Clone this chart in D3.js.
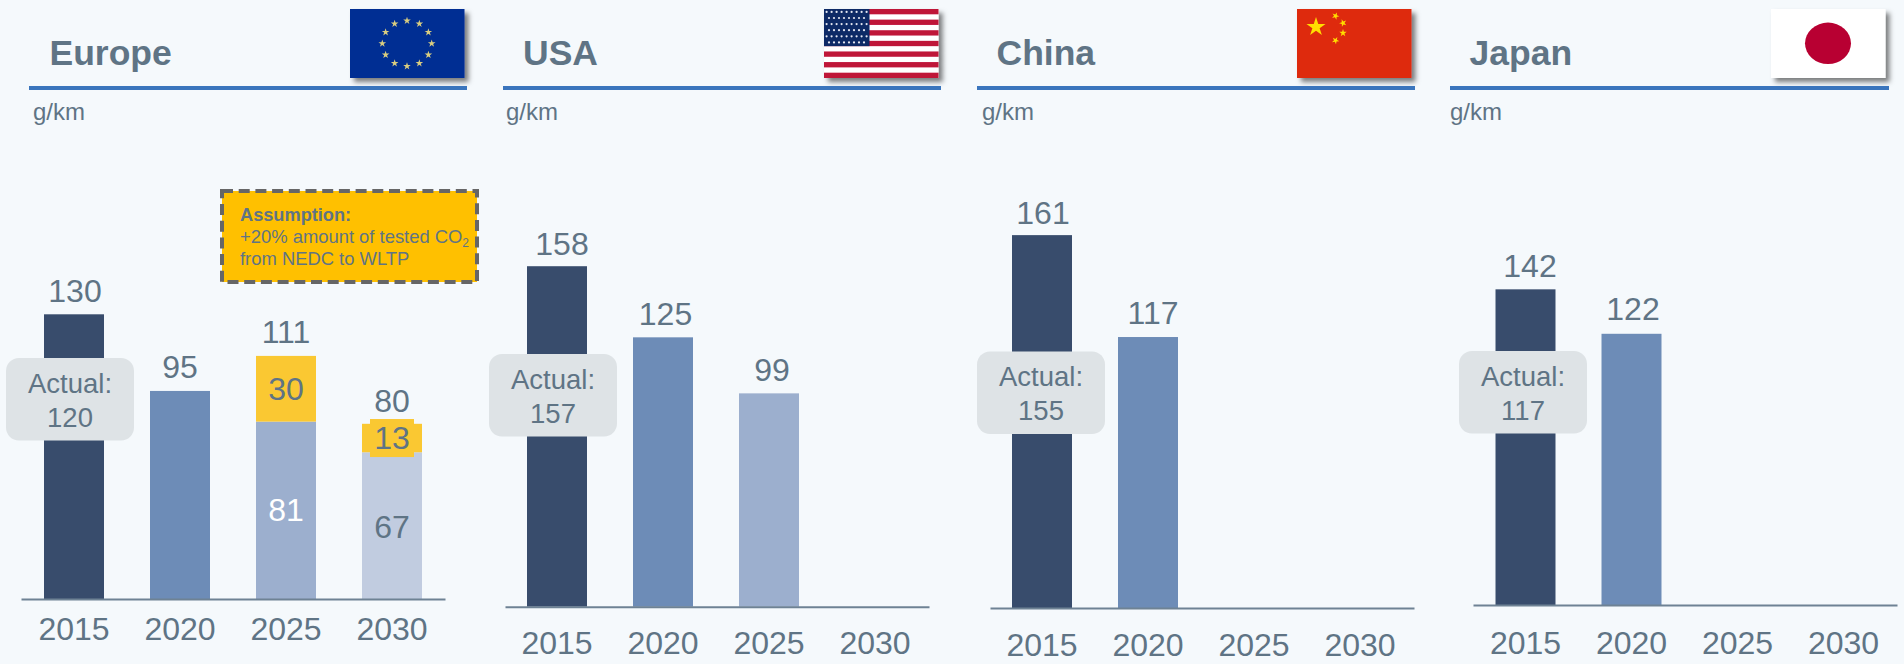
<!DOCTYPE html>
<html>
<head>
<meta charset="utf-8">
<title>CO2 fleet targets by region</title>
<script src="https://cdn.jsdelivr.net/npm/d3@7/dist/d3.min.js"></script>
<style>
  html, body { margin: 0; padding: 0; background: #f5f9fc; overflow: hidden; }
  svg { display: block; }
  text { font-family: "Liberation Sans", Arial, sans-serif; fill: #5f7485; }
</style>
</head>
<body>
<svg id="chart" width="1904" height="664"></svg>
<script>
// Category axis shared by all four regions
const years = ["2015", "2020", "2025", "2030"];
const unitLabel = "g/km";

// Regions and their headline values in g/km (null = no target published)
const regionNames = ["Europe", "USA", "China", "Japan"];
const europeBase = [130, 95, 81, 67];
const europeAdded = [0, 0, 30, 13];
const usaBase = [158, 125, 99, null];
const chinaBase = [161, 117, null, null];
const japanBase = [142, 122, null, null];
const baseSeries = [europeBase, usaBase, chinaBase, japanBase];
const addedSeries = [europeAdded, [0, 0, 0, 0], [0, 0, 0, 0], [0, 0, 0, 0]];

// Measured 2015 fleet value shown in the callout on each first bar
const actual2015 = [120, 157, 155, 117];

// Wording of the note above the Europe panel
const noteTitle = "Assumption:";
const noteLine1 = "+20% amount of tested CO";
const noteSub = "2";
const noteLine2 = "from NEDC to WLTP";

// Layout of each small multiple; every panel has its own vertical scale
const layouts = [
  { ruleX: [29, 467], axisX: [21, 445], barShift: 0, base: 599, perUnit: 2.19, titleX: 49.5, unitX: 33, flagX: 350,
    tickY: 640, callout: [6, 358], nudge: [[1, 0], [0, -1], [0, -1], [0, 0]] },
  { ruleX: [503, 941], axisX: [505, 929], barShift: -1, base: 606.7, perUnit: 2.155, titleX: 523, unitX: 506, flagX: 824,
    tickY: 654, callout: [489, 354], nudge: [[5, 1], [2.5, 0], [3, 0], [0, 0]] },
  { ruleX: [977, 1415], axisX: [990, 1414], barShift: -1, base: 608, perUnit: 2.316, titleX: 996.5, unitX: 982, flagX: 1297,
    tickY: 656, callout: [977, 351.5], nudge: [[1, 1.5], [5, -1], [0, 0], [0, 0]] },
  { ruleX: [1450, 1889], axisX: [1473, 1897], barShift: -0.5, base: 605, perUnit: 2.223, titleX: 1469.5, unitX: 1450, flagX: 1771,
    tickY: 654, callout: [1459, 351], nudge: [[4.5, 0], [1.5, -1], [0, 0], [0, 0]] }
];

const barColors = ["#384c6c", "#6d8cb7", "#9cafce", "#c1cce0"];
const addedColor = "#fac832";
const labelSize = 32;

const svg = d3.select("#chart");

const defs = svg.append("defs");
const shadow = defs.append("filter").attr("id", "flagShadow")
  .attr("x", "-10%").attr("y", "-10%").attr("width", "125%").attr("height", "130%");
shadow.append("feDropShadow").attr("dx", 4).attr("dy", 4).attr("stdDeviation", 2.5)
  .attr("flood-color", "#000").attr("flood-opacity", 0.5);

svg.append("rect").attr("width", 1904).attr("height", 664).attr("fill", "#f5f9fc");

const FLAG_W = 114.5, FLAG_H = 69, FLAG_Y = 9;

// Five-pointed star path centred on the origin
function starPath(r, rotation = 0) {
  const pts = d3.range(10).map(i => {
    const rad = i % 2 ? r * 0.382 : r;
    const a = rotation + i * Math.PI / 5;
    return [rad * Math.sin(a), -rad * Math.cos(a)];
  });
  return d3.line()(pts) + "Z";
}

const flagPainters = {
  Europe(g) {
    g.append("rect").attr("width", FLAG_W).attr("height", FLAG_H).attr("fill", "#012e93");
    d3.range(12).forEach(i => {
      const a = i * Math.PI / 6;
      g.append("path").attr("d", starPath(4))
        .attr("transform", `translate(${57 + 24.7 * Math.sin(a)},${34.5 - 22.7 * Math.cos(a)})`)
        .attr("fill", "#d9cd80");
    });
  },
  USA(g) {
    const stripe = FLAG_H / 13;
    g.append("rect").attr("width", FLAG_W).attr("height", FLAG_H).attr("fill", "#fff");
    d3.range(0, 13, 2).forEach(i => {
      g.append("rect").attr("y", i * stripe).attr("width", FLAG_W).attr("height", stripe).attr("fill", "#bf1238");
    });
    g.append("rect").attr("width", 45.5).attr("height", stripe * 7).attr("fill", "#0e2a66");
    d3.range(6).forEach(row => {
      const count = row % 2 ? 8 : 9;
      d3.range(count).forEach(col => {
        g.append("circle").attr("cx", (row % 2 ? 5 : 2.6) + col * 5)
          .attr("cy", 2.9 + row * 6.1).attr("r", 1.1).attr("fill", "#e4e8f2");
      });
    });
  },
  China(g) {
    g.append("rect").attr("width", FLAG_W).attr("height", FLAG_H).attr("fill", "#de2a10");
    g.append("path").attr("d", starPath(10)).attr("transform", "translate(19,18)").attr("fill", "#ffde00");
    [[38.5, 7, 0.4], [46, 14, 0.9], [46, 24, 0], [38.5, 31.5, 0.5]].forEach(([x, y, rot]) => {
      g.append("path").attr("d", starPath(3.9, rot)).attr("transform", `translate(${x},${y})`).attr("fill", "#ffde00");
    });
  },
  Japan(g) {
    g.append("rect").attr("width", FLAG_W).attr("height", FLAG_H).attr("fill", "#fff");
    g.append("ellipse").attr("cx", 57).attr("cy", 34.3).attr("rx", 23).attr("ry", 20.7).attr("fill", "#b80030");
  }
};

regionNames.forEach((name, p) => {
  const lay = layouts[p];
  const base = baseSeries[p];
  const added = addedSeries[p];
  const panel = svg.append("g").attr("class", "panel").attr("data-region", name);

  // Header: flag, title, blue rule, unit
  const flag = panel.append("g")
    .attr("transform", `translate(${lay.flagX},${FLAG_Y})`)
    .attr("filter", "url(#flagShadow)");
  flagPainters[name](flag);

  panel.append("text").attr("x", lay.titleX).attr("y", 65)
    .attr("font-size", 35.5).attr("font-weight", "bold").text(name);
  panel.append("line").attr("x1", lay.ruleX[0]).attr("x2", lay.ruleX[1])
    .attr("y1", 88).attr("y2", 88).attr("stroke", "#3a75bd").attr("stroke-width", 4);
  panel.append("text").attr("x", lay.unitX).attr("y", 120)
    .attr("font-size", 24).attr("fill", "#667f8f").text(unitLabel);

  const x = d3.scaleBand().domain(years).range(lay.axisX).paddingInner(0.434).paddingOuter(0.217);
  const y = d3.scaleLinear().domain([0, 100]).range([lay.base, lay.base - 100 * lay.perUnit]);

  const rows = years.map((year, i) => ({
    year, i,
    base: base[i],
    added: added[i],
    total: base[i] == null ? null : base[i] + added[i]
  })).filter(d => d.base != null);

  const marks = panel.append("g").attr("transform", `translate(${lay.barShift},0)`);

  // Lower bar segments
  marks.append("g").selectAll("rect").data(rows).join("rect")
    .attr("x", d => x(d.year)).attr("width", x.bandwidth())
    .attr("y", d => y(d.base)).attr("height", d => y(0) - y(d.base))
    .attr("fill", d => barColors[d.i]);

  // Upper segments for the test-cycle uplift
  marks.append("g").selectAll("rect").data(rows.filter(d => d.added > 0)).join("rect")
    .attr("x", d => x(d.year)).attr("width", x.bandwidth())
    .attr("y", d => y(d.total)).attr("height", d => y(d.base) - y(d.total))
    .attr("fill", addedColor);

  // Category axis
  const axis = panel.append("g").attr("transform", `translate(0,${lay.base})`)
    .call(d3.axisBottom(x).tickSize(0));
  axis.select(".domain").attr("stroke", "#6e8294").attr("stroke-width", 2);
  axis.selectAll("text")
    .attr("x", lay.barShift).attr("y", lay.tickY - lay.base).attr("dy", 0)
    .attr("font-size", labelSize)
    .attr("font-family", '"Liberation Sans", Arial, sans-serif')
    .attr("fill", "#5f7485");

  // Totals above each bar
  marks.append("g").selectAll("text").data(rows).join("text")
    .attr("class", "total")
    .attr("x", d => x(d.year) + x.bandwidth() / 2 + lay.nudge[d.i][0])
    .attr("y", d => y(d.total) - 12.3 + lay.nudge[d.i][1])
    .attr("text-anchor", "middle").attr("font-size", labelSize)
    .text(d => d.total);

  // Callout with the measured 2015 value
  const [cx, cy] = lay.callout;
  const callout = panel.append("g").attr("transform", `translate(${cx},${cy})`);
  callout.append("rect").attr("width", 128).attr("height", 82.5).attr("rx", 13).attr("fill", "#dee3e6");
  callout.append("text").attr("x", 64).attr("y", 34.7).attr("text-anchor", "middle")
    .attr("font-size", 27.5).attr("fill", "#667f8f").text("Actual:");
  callout.append("text").attr("x", 64).attr("y", 68.7).attr("text-anchor", "middle")
    .attr("font-size", 27.5).attr("fill", "#667f8f").text(actual2015[p]);

  // Europe splits its projected bars into base and uplift parts
  if (name === "Europe") {
    const stacked = rows.filter(d => d.added > 0);
    const mid = (d) => x(d.year) + x.bandwidth() / 2;

    const chip = stacked.filter(d => d.added < 20);
    panel.append("g").selectAll("rect").data(chip).join("rect")
      .attr("x", d => mid(d) - 22).attr("width", 44)
      .attr("y", d => (y(d.total) + y(d.base)) / 2 - 19).attr("height", 38)
      .attr("fill", addedColor);

    panel.append("g").selectAll("text").data(stacked).join("text")
      .attr("x", mid)
      .attr("y", d => (y(d.total) + y(d.base)) / 2 + 11)
      .attr("text-anchor", "middle").attr("font-size", labelSize)
      .text(d => d.added);

    panel.append("g").selectAll("text").data(stacked).join("text")
      .attr("x", mid)
      .attr("y", d => (y(d.base) + y(0)) / 2 + (d.i === 2 ? 11 : 12))
      .attr("text-anchor", "middle").attr("font-size", labelSize)
      .style("fill", d => d.i === 2 ? "#fff" : "#5f7485")
      .text(d => d.base);

    // Dashed note on the test-cycle assumption
    const note = panel.append("g");
    note.append("rect").attr("x", 222).attr("y", 191).attr("width", 255).attr("height", 91)
      .attr("fill", "#ffc000").attr("stroke", "#666").attr("stroke-width", 4)
      .attr("stroke-dasharray", "11,5.7");
    note.append("text").attr("x", 240).attr("y", 220.5).attr("font-size", 18.2)
      .attr("font-weight", "bold").text(noteTitle);
    const l1 = note.append("text").attr("x", 240).attr("y", 243).attr("font-size", 18.4).text(noteLine1);
    l1.append("tspan").attr("dy", 4).attr("font-size", 12).text(noteSub);
    note.append("text").attr("x", 240).attr("y", 265).attr("font-size", 18.4).text(noteLine2);
  }
});
</script>
</body>
</html>
